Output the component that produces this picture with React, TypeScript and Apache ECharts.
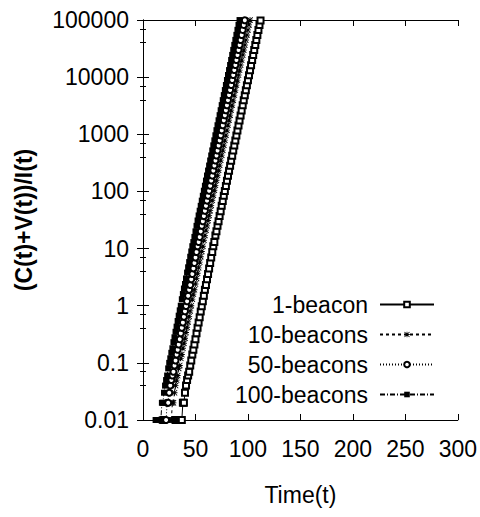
import React, { useEffect, useRef } from "react";
import * as echarts from "echarts";

const seriesNames = ["1-beacon", "10-beacons", "50-beacons", "100-beacons"];

// first time step of each series (x values are consecutive integer steps)
const beacon1Start = 31;
const beacon10Start = 22;
const beacon50Start = 17;
const beacon100Start = 12;

const beacon1Values = [
  0.01, 0.01, 0.01, 0.01, 0.01, 0.01, 0.01,
  0.02, 0.02, 0.03, 0.04, 0.05, 0.06, 0.07, 0.09, 0.11, 0.14,
  0.17, 0.21, 0.26, 0.33, 0.41, 0.51, 0.63, 0.79, 0.98, 1.2,
  1.5, 1.9, 2.3, 2.9, 3.6, 4.5, 5.6, 7.0, 8.7, 11,
  13, 17, 20, 25, 30, 37, 45, 56, 68, 84,
  102, 125, 154, 188, 230, 282, 345, 423, 518, 634,
  776, 950, 1160, 1430, 1750, 2140, 2620, 3210, 3930, 4810,
  5890, 7210, 8830, 10800, 13200, 16200, 19900, 24300, 29800, 36500,
  44700, 54700, 67000, 82000, 98000,
];

const beacon10Values = [
  0.01, 0.01, 0.01, 0.01, 0.01, 0.01,
  0.02, 0.02, 0.03, 0.04, 0.05, 0.06, 0.08, 0.09, 0.12, 0.14,
  0.18, 0.22, 0.27, 0.34, 0.42, 0.52, 0.65, 0.81, 1.0, 1.3,
  1.6, 1.9, 2.4, 3.0, 3.7, 4.6, 5.8, 7.2, 8.9, 11,
  14, 17, 21, 25, 31, 38, 46, 57, 70, 86,
  105, 128, 157, 192, 235, 288, 352, 431, 527, 645,
  789, 965, 1180, 1450, 1770, 2160, 2650, 3240, 3960, 4850,
  5930, 7260, 8880, 10900, 13300, 16300, 19900, 24400, 29800, 36500,
  44700, 54700, 67000, 82000, 99500,
];

const beacon50Values = [
  0.01, 0.01, 0.01, 0.01, 0.01, 0.01,
  0.02, 0.02, 0.03, 0.04, 0.05, 0.06, 0.07, 0.09, 0.11, 0.14,
  0.17, 0.21, 0.26, 0.33, 0.41, 0.51, 0.64, 0.8, 0.99, 1.2,
  1.5, 1.9, 2.3, 2.9, 3.6, 4.5, 5.6, 7.0, 8.7, 11,
  13, 16, 20, 25, 30, 37, 46, 56, 69, 84,
  103, 126, 155, 189, 232, 284, 348, 426, 522, 639,
  782, 958, 1170, 1440, 1760, 2160, 2640, 3230, 3960, 4850,
  5940, 7270, 8900, 10900, 13300, 16300, 20000, 24400, 29900, 36600,
  44800, 54800, 67100, 82100, 99000,
];

const beacon100Values = [
  0.01, 0.01, 0.01, 0.01, 0.01, 0.01,
  0.02, 0.02, 0.03, 0.04, 0.05, 0.06, 0.08, 0.1, 0.12, 0.15,
  0.18, 0.23, 0.28, 0.35, 0.43, 0.54, 0.67, 0.83, 1.0, 1.3,
  1.6, 2.0, 2.4, 3.0, 3.8, 4.7, 5.8, 7.2, 8.9, 11,
  13, 16, 20, 25, 31, 38, 46, 56, 69, 84,
  103, 126, 155, 190, 232, 284, 348, 426, 522, 640,
  783, 960, 1180, 1440, 1760, 2160, 2640, 3240, 3960, 4850,
  5940, 7280, 8910, 10900, 13300, 16300, 20000, 24500, 30000, 36700,
  44900, 55000, 67300, 82400, 99800,
];

const xTickLabels = ["0", "50", "100", "150", "200", "250", "300"];
const yTickLabels = ["0.01", "0.1", "1", "10", "100", "1000", "10000", "100000"];

const FONT = "'Liberation Sans', Arial, sans-serif";

const ASTERISK =
  "path://M4.3,0 L5.7,0 L5.7,10 L4.3,10 Z M0,4.3 L10,4.3 L10,5.7 L0,5.7 Z M0,1 L1,0 L10,9 L9,10 Z M9,0 L10,1 L1,10 L0,9 Z";

function toPoints(start: number, values: number[]) {
  return values.map((v, i) => [start + i, v]);
}

export default function App() {
  const ref = useRef<HTMLDivElement>(null);
  useEffect(() => {
    if (!ref.current) return;
    const chart = echarts.init(ref.current, null, { renderer: "svg" });
    const axisLine = { show: true, lineStyle: { color: "#000", width: 1 } };
    const lineBase = { color: "#000", width: 1 };
    chart.setOption({
      animation: false,
      backgroundColor: "#fff",
      grid: { left: 143, right: 22, top: 20, bottom: 97, containLabel: false },
      legend: {
        orient: "vertical",
        right: 40,
        top: 286,
        align: "right",
        itemWidth: 54,
        itemHeight: 7,
        itemGap: 3,
        selectedMode: false,
        data: seriesNames,
        textStyle: {
          fontSize: 23,
          lineHeight: 27,
          fontFamily: FONT,
          color: "#000",
          padding: [0, 7, 0, 0],
        },
      },
      xAxis: [
        {
          type: "value",
          min: 0,
          max: 300,
          interval: 50,
          position: "bottom",
          name: "Time(t)",
          nameLocation: "middle",
          nameGap: 63,
          nameTextStyle: { fontSize: 23, fontFamily: FONT, color: "#000" },
          axisLine,
          axisTick: { show: true, inside: true, length: 6, lineStyle: { color: "#000" } },
          axisLabel: {
            margin: 17,
            fontSize: 23,
            fontFamily: FONT,
            color: "#000",
            formatter: (v: number) => xTickLabels[Math.round(v / 50)] ?? String(v),
          },
          splitLine: { show: false },
        },
        {
          type: "value",
          min: 0,
          max: 300,
          interval: 50,
          position: "top",
          axisLine,
          axisTick: { show: true, inside: true, length: 6, lineStyle: { color: "#000" } },
          axisLabel: { show: false },
          splitLine: { show: false },
        },
      ],
      yAxis: [
        {
          type: "log",
          logBase: 10,
          min: 0.01,
          max: 100000,
          splitNumber: 7,
          position: "left",
          name: "(C(t)+V(t))/I(t)",
          nameLocation: "middle",
          nameRotate: 90,
          nameGap: 108,
          nameTextStyle: { fontSize: 23, fontWeight: "bold", fontFamily: FONT, color: "#000" },
          axisLine,
          axisTick: { show: true, inside: true, length: 6, lineStyle: { color: "#000" } },
          minorTick: { show: true, splitNumber: 3, length: 3, lineStyle: { color: "#000" } },
          axisLabel: {
            margin: 14,
            fontSize: 23,
            fontFamily: FONT,
            color: "#000",
            formatter: (v: number) => yTickLabels[Math.round(Math.log10(v)) + 2] ?? String(v),
          },
          splitLine: { show: false },
        },
        {
          type: "log",
          logBase: 10,
          min: 0.01,
          max: 100000,
          splitNumber: 7,
          position: "right",
          axisLine,
          axisTick: { show: true, inside: true, length: 6, lineStyle: { color: "#000" } },
          minorTick: { show: true, splitNumber: 3, length: 3, lineStyle: { color: "#000" } },
          axisLabel: { show: false },
          splitLine: { show: false },
        },
      ],
      series: [
        {
          name: seriesNames[0],
          type: "line",
          data: toPoints(beacon1Start, beacon1Values),
          symbol: "emptyRect",
          symbolSize: 6,
          showAllSymbol: true,
          clip: true,
          lineStyle: { ...lineBase, type: "solid" },
          itemStyle: { color: "#000", borderColor: "#000", borderWidth: 1 },
        },
        {
          name: seriesNames[1],
          type: "line",
          data: toPoints(beacon10Start, beacon10Values),
          symbol: ASTERISK,
          symbolSize: 6,
          showAllSymbol: true,
          clip: true,
          lineStyle: { ...lineBase, type: [3, 3] },
          itemStyle: { color: "#000", borderWidth: 0 },
        },
        {
          name: seriesNames[2],
          type: "line",
          data: toPoints(beacon50Start, beacon50Values),
          symbol: "emptyCircle",
          symbolSize: 6,
          showAllSymbol: true,
          clip: true,
          lineStyle: { ...lineBase, type: [1, 2] },
          itemStyle: { color: "#000", borderColor: "#000", borderWidth: 1 },
        },
        {
          name: seriesNames[3],
          type: "line",
          data: toPoints(beacon100Start, beacon100Values),
          symbol: "rect",
          symbolSize: 6,
          showAllSymbol: true,
          clip: true,
          lineStyle: { ...lineBase, type: [5, 2, 1, 2] },
          itemStyle: { color: "#000", borderWidth: 0 },
        },
      ],
    });
    return () => chart.dispose();
  }, []);
  return (
    <div
      ref={ref}
      style={{ position: "absolute", left: 0, top: 0, width: 480, height: 517 }}
    />
  );
}
